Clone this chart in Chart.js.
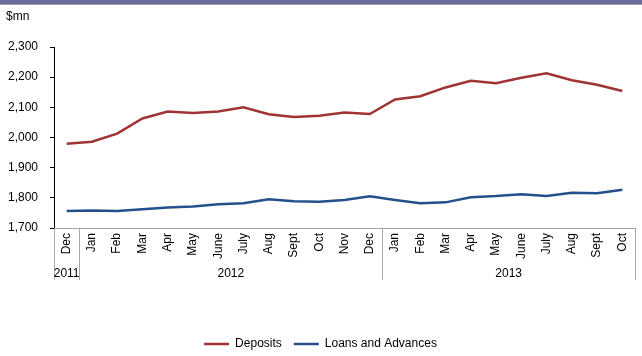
<!DOCTYPE html>
<html>
<head>
<meta charset="utf-8">
<script src="https://cdn.jsdelivr.net/npm/chart.js@4/dist/chart.umd.min.js"></script>
<style>
  body { margin: 0; background: #fff; }
  #wrap { position: relative; width: 642px; height: 356px; }
  #band { position: absolute; left: 0; top: 0; width: 642px; height: 4px; background: #6a6a9e; border-bottom: 1px solid #a0a0a0; }
</style>
</head>
<body>
<div id="wrap">
  <canvas id="bankChart" width="642" height="356"></canvas>
  <div id="band"></div>
</div>
<script>
// 月份標籤（2011年12月至2013年10月）
const months = ["Dec", "Jan", "Feb", "Mar", "Apr", "May", "June", "July", "Aug", "Sept", "Oct", "Nov", "Dec",
                "Jan", "Feb", "Mar", "Apr", "May", "June", "July", "Aug", "Sept", "Oct"];

// 年份分組，每組包含的月份數
const years = ["2011", "2012", "2013"];
const yearSpans = [1, 12, 10];

// 存款與貸款餘額 ($mn)
const deposits = [1979, 1986, 2013, 2063, 2086, 2081, 2086, 2100, 2077, 2068, 2072, 2083, 2078,
                  2126, 2137, 2166, 2188, 2180, 2198, 2213, 2190, 2175, 2154];
const loans = [1756, 1758, 1756, 1762, 1768, 1771, 1779, 1782, 1795, 1789, 1787, 1793, 1805,
               1793, 1782, 1785, 1802, 1806, 1812, 1806, 1817, 1815, 1827];

const yTicks = [1700, 1800, 1900, 2000, 2100, 2200, 2300];

const FONT = "'Liberation Sans', Arial, sans-serif";

// 在 x 軸下方畫年份分隔線與年份文字
const yearGroups = {
    id: "yearGroups",
    afterDraw(chart) {
        const { ctx, chartArea } = chart;
        const x = chart.scales.x;
        const last = months.length - 1;
        const top = chartArea.bottom;
        const lineBottom = top + 52;

        ctx.save();
        ctx.strokeStyle = "#a6a6a6";
        ctx.lineWidth = 1;
        ctx.fillStyle = "#000";
        ctx.font = "12px " + FONT;
        ctx.textAlign = "center";
        ctx.textBaseline = "middle";

        let start = 0;
        years.forEach((year, g) => {
            const end = start + yearSpans[g] - 1;
            const left = start === 0 ? chartArea.left
                : (x.getPixelForValue(start - 1) + x.getPixelForValue(start)) / 2;
            const right = end === last ? chartArea.right
                : (x.getPixelForValue(end) + x.getPixelForValue(end + 1)) / 2;

            [left, right].forEach(px => {
                const p = Math.round(px) + 0.5;
                ctx.beginPath();
                ctx.moveTo(p, top);
                ctx.lineTo(p, lineBottom);
                ctx.stroke();
            });

            ctx.fillText(year, (left + right) / 2, top + 46);
            start = end + 1;
        });
        ctx.restore();
    }
};

const ctx = document.getElementById("bankChart").getContext("2d");
new Chart(ctx, {
    type: "line",
    data: {
        labels: months,
        datasets: [
            {
                label: "Deposits",
                data: deposits,
                borderColor: "#a03333",
                backgroundColor: "#a03333",
                borderWidth: 2.5,
                pointRadius: 0,
                tension: 0,
                fill: false,
            },
            {
                label: "Loans and Advances",
                data: loans,
                borderColor: "#24508c",
                backgroundColor: "#24508c",
                borderWidth: 2.5,
                pointRadius: 0,
                tension: 0,
                fill: false,
            },
        ],
    },
    options: {
        responsive: false,
        animation: false,
        layout: { padding: { top: 9, left: 6, right: 7, bottom: 0 } },
        plugins: {
            title: {
                display: true,
                text: "$mn",
                align: "start",
                color: "#000",
                font: { family: FONT, size: 12, weight: "normal" },
                padding: { top: 0, bottom: 23.6 },
            },
            legend: {
                position: "bottom",
                maxHeight: 30,
                labels: {
                    usePointStyle: true,
                    pointStyle: "line",
                    pointStyleWidth: 25,
                    color: "#000",
                    padding: 12,
                    font: { family: FONT, size: 12 },
                },
            },
            tooltip: { enabled: false },
        },
        scales: {
            x: {
                offset: true,
                grid: { display: false, drawTicks: false },
                border: { display: true, color: "#a6a6a6", width: 1 },
                ticks: {
                    color: "#000",
                    font: { family: FONT, size: 12 },
                    minRotation: 90,
                    maxRotation: 90,
                    autoSkip: false,
                    padding: 5,
                },
                afterFit: s => { s.height = 98; },
            },
            y: {
                min: 1700,
                max: 2300,
                afterBuildTicks: s => { s.ticks = yTicks.map(v => ({ value: v })); },
                grid: { display: true, drawOnChartArea: false, drawTicks: true, tickLength: 4, color: "#000" },
                border: { display: true, color: "#000", width: 1 },
                ticks: {
                    color: "#000",
                    font: { family: FONT, size: 12 },
                    padding: 12,
                    callback: v => v.toLocaleString("en-US"),
                },
                afterFit: s => { s.width = 48; },
            },
        },
    },
    plugins: [yearGroups],
});
</script>
</body>
</html>
